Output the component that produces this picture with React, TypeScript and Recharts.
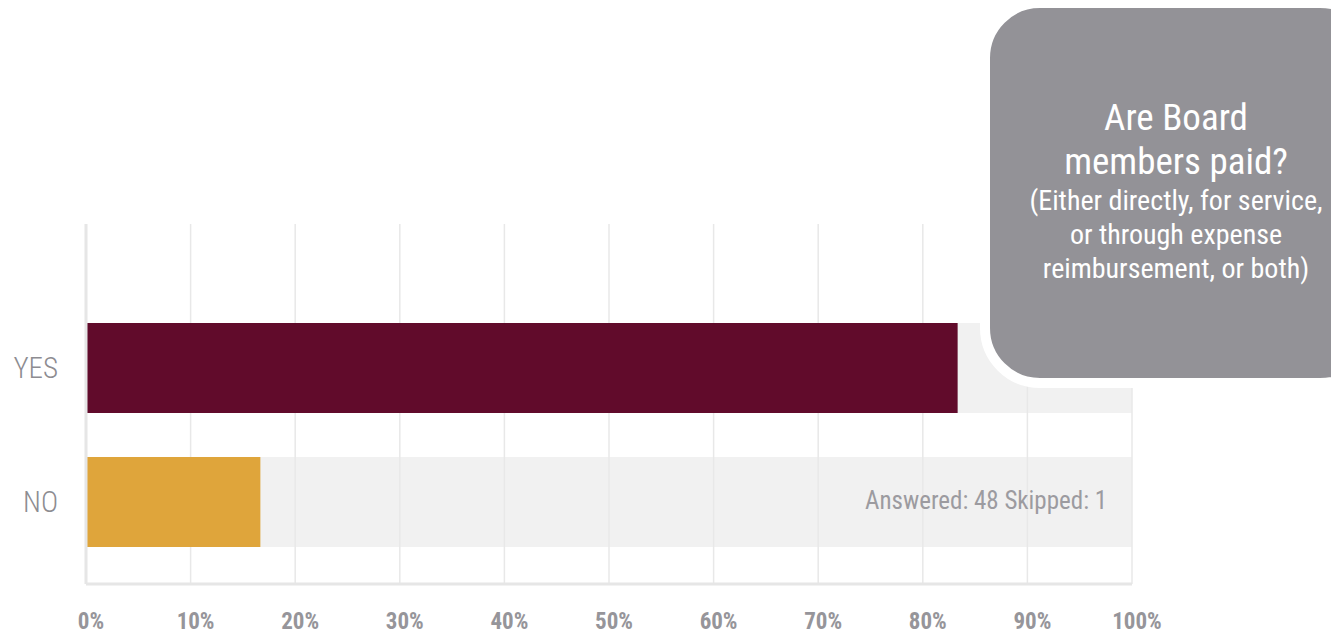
import React from 'react';
import { BarChart, Bar, XAxis, YAxis, CartesianGrid } from 'recharts';

const categories = ['YES', 'NO'];
const shares = [83.33, 16.67];
const fullScale = [100, 100];
const xTicks = [0, 10, 20, 30, 40, 50, 60, 70, 80, 90, 100];
const barColors = ['#610b2b', '#dfa53b'];

const titleLines = ['Are Board', 'members paid?'];
const noteLines = ['(Either directly, for service,', 'or through expense', 'reimbursement, or both)'];
const footnote = 'Answered: 48 Skipped: 1';

const narrow = "'Roboto Condensed', 'Liberation Sans Narrow', Roboto, sans-serif";

const rows = categories.map((name, i) => ({ name, value: shares[i], full: fullScale[i] }));

export default function App() {
  return (
    <div style={{ position: 'absolute', left: 0, top: 0, width: 1331, height: 637, background: '#fff', overflow: 'hidden' }}>
      <BarChart
        width={1331}
        height={637}
        data={rows}
        layout="vertical"
        margin={{ top: 224, right: 199, bottom: 3, left: 6 }}
        barSize={90}
        barGap={-90}
      >
        <Bar dataKey="full" fill="#f1f1f1" isAnimationActive={false} zIndex={200} />
        <CartesianGrid vertical horizontal={false} stroke="#e8e8e8" strokeWidth={1.5} zIndex={250} />
        <Bar dataKey="value" isAnimationActive={false} zIndex={300}
          shape={(p: any) => <rect x={p.x} y={p.y} width={p.width} height={p.height} fill={barColors[p.index]} />}
        />
        <XAxis
          type="number"
          domain={[0, 100]}
          ticks={xTicks}
          tickFormatter={(v) => `${v}%`}
          height={50}
          tickLine={false}
          tickSize={0}
          tickMargin={29}
          axisLine={{ stroke: '#e6e6e6', strokeWidth: 3 }}
          tick={{ fill: '#96959a', fontSize: 23, fontWeight: 700, fontFamily: narrow, dx: 5 }}
        />
        <YAxis
          type="category"
          dataKey="name"
          width={80}
          padding={{ top: 77, bottom: 15 }}
          tickLine={false}
          tickSize={0}
          tickMargin={28}
          axisLine={{ stroke: '#e6e6e6', strokeWidth: 3 }}
          tick={{ fill: '#8d8c91', fontSize: 29, fontWeight: 300, fontFamily: narrow }}
        />
      </BarChart>

      <div style={{ position: 'absolute', left: 865, top: 486, color: '#9c9ba0', fontSize: 25, fontFamily: narrow, whiteSpace: 'nowrap' }}>
        {footnote}
      </div>

      <div style={{
        position: 'absolute', left: 980, top: -2, width: 380, height: 370,
        background: '#939297', border: '10px solid #fff', borderRadius: 60,
      }} />
      <div style={{ position: 'absolute', left: 1000, top: 96, width: 352, textAlign: 'center', color: '#fff', fontFamily: narrow }}>
        {titleLines.map((t) => (
          <div key={t} style={{ fontSize: 37, lineHeight: '44px' }}>{t}</div>
        ))}
        {noteLines.map((t) => (
          <div key={t} style={{ fontSize: 28, lineHeight: '34px' }}>{t}</div>
        ))}
      </div>
    </div>
  );
}
